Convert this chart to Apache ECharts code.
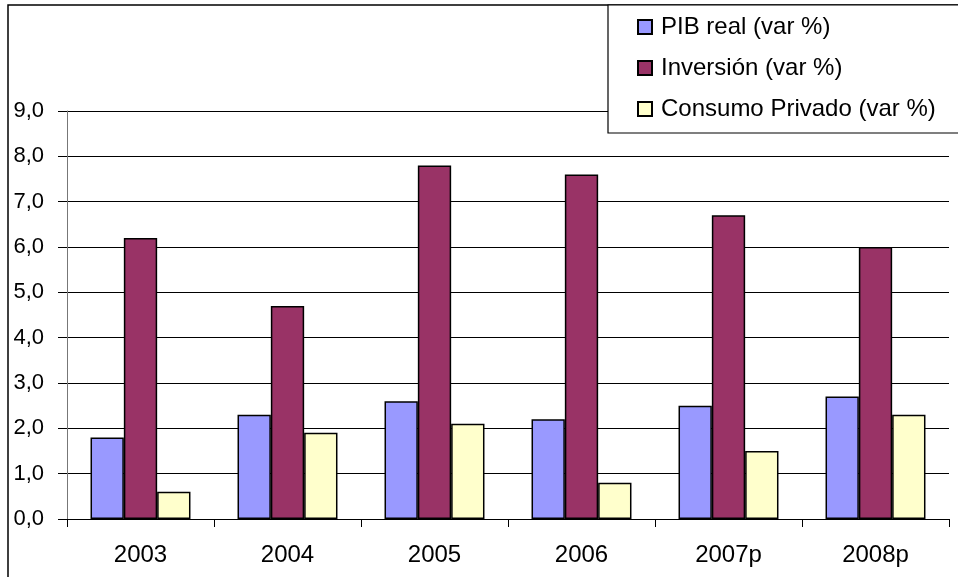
<!DOCTYPE html>
<html>
<head>
<meta charset="utf-8">
<script src="https://cdn.jsdelivr.net/npm/echarts@6/dist/echarts.min.js"></script>
<style>
  html, body { margin: 0; padding: 0; background: #fff; }
  #chart { width: 958px; height: 577px; }
</style>
</head>
<body>
<div id="chart"></div>
<script>
// datos
var years = ['2003', '2004', '2005', '2006', '2007p', '2008p']
var pibReal = [1.8, 2.3, 2.6, 2.2, 2.5, 2.7]
var inversion = [6.2, 4.7, 7.8, 7.6, 6.7, 6.0]
var consumo = [0.6, 1.9, 2.1, 0.8, 1.5, 2.3]
var seriesNames = ['PIB real (var %)', 'Inversión (var %)', 'Consumo Privado (var %)']

var myChart = echarts.init(document.getElementById('chart'))

function barSerie (name, data, color) {
  return {
    name: name,
    type: 'bar',
    data: data,
    barGap: '0%',
    barCategoryGap: '32%',
    itemStyle: {
      color: color,
      borderColor: '#000',
      borderWidth: 1.5,
    },
  }
}

var option = {
  animation: false,
  textStyle: { fontFamily: 'Liberation Sans, Arial, sans-serif' },
  graphic: [
    // marco exterior
    {
      type: 'rect',
      shape: { x: 8, y: 5, width: 1000, height: 700 },
      style: { fill: 'none', stroke: '#000', lineWidth: 1.5 },
      z: 0,
    },
    // caja de leyenda
    {
      type: 'rect',
      shape: { x: 608, y: 5, width: 400, height: 128 },
      style: { fill: '#fff', stroke: '#000', lineWidth: 1.2 },
      z: 50,
    },
  ],
  grid: {
    left: 67,
    right: 9,
    top: 111,
    bottom: 58,
  },
  legend: {
    orient: 'vertical',
    left: 632,
    top: 10,
    padding: 5,
    icon: 'rect',
    itemWidth: 14,
    itemHeight: 14,
    itemGap: 17,
    z: 60,
    data: seriesNames,
    textStyle: {
      color: '#000',
      fontSize: 24,
      padding: [0, 0, 0, 4],
      fontFamily: 'Liberation Sans, Arial, sans-serif',
    },
  },
  xAxis: {
    type: 'category',
    data: years,
    axisLine: { lineStyle: { color: '#000', width: 1 } },
    axisTick: { show: true, length: 8, lineStyle: { color: '#000' } },
    axisLabel: {
      color: '#000',
      fontSize: 24,
      margin: 24,
    },
  },
  yAxis: {
    type: 'value',
    min: 0,
    max: 9,
    interval: 1,
    axisLine: { show: true, lineStyle: { color: '#777', width: 1 } },
    axisTick: { show: true, length: 9, lineStyle: { color: '#000' } },
    splitLine: { show: true, lineStyle: { color: '#000', width: 1 } },
    axisLabel: {
      color: '#000',
      fontSize: 22,
      margin: 23,
      formatter: function (v) { return v.toFixed(1).replace('.', ',') },
    },
  },
  series: [
    barSerie(seriesNames[0], pibReal, '#9999FF'),
    barSerie(seriesNames[1], inversion, '#993366'),
    barSerie(seriesNames[2], consumo, '#FFFFCC'),
  ],
}

myChart.setOption(option)
window.onresize = myChart.resize
</script>
</body>
</html>
